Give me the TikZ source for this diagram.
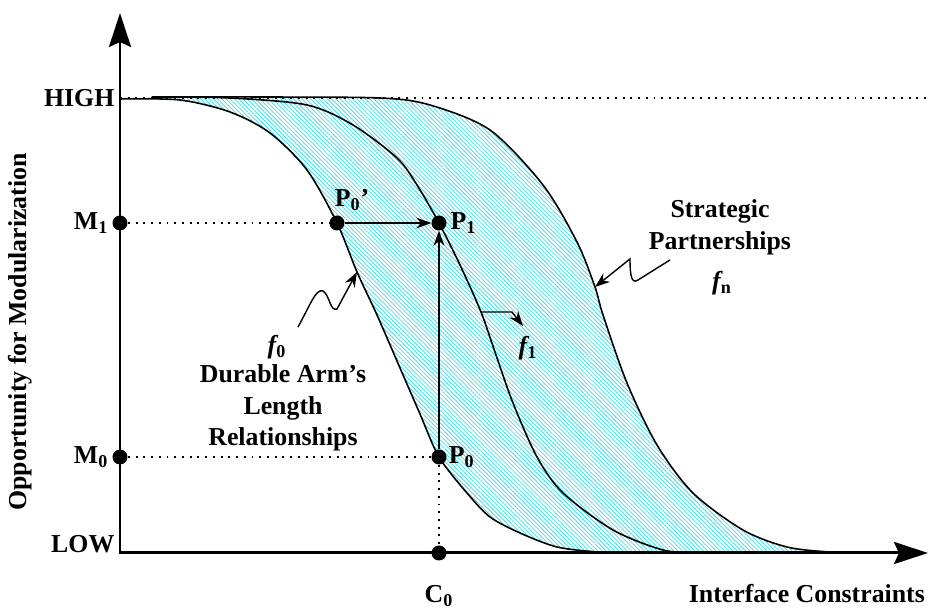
\documentclass[tikz,border=0pt]{standalone}
\usepackage{fontspec}
\setmainfont{Liberation Serif}
\usetikzlibrary{arrows.meta,patterns.meta,positioning}
\definecolor{hatch}{RGB}{64,224,232}

\begin{document}
\begin{tikzpicture}[
	every node/.style={font=\fontsize{14.7}{17.9}\selectfont\bfseries,inner sep=1pt},
	dot/.style={circle,fill,inner sep=0pt,minimum size=0.3cm},
	guide/.style={line width=1.1pt,dash pattern=on 1.1pt off 3.3pt},
	curve/.style={line width=0.9pt},
	axis/.style={line width=1.7pt},
	pointer/.style={line width=0.8pt,-{Stealth[length=3mm,width=2.2mm]}}
]
	\useasboundingbox (-2.4,-1.1) rectangle (16.24,11.06);

	% band between f0 and fn
	\fill[pattern={Lines[angle=-45,distance=1.7pt,line width=0.45pt]},pattern color=hatch]
		plot[smooth] coordinates {(0,9.08) (1.2,9.06) (2.2,8.82) (3.0,8.4) (3.74,7.66) (4.34,6.6) (4.74,5.62) (5.14,4.76) (5.6,3.7) (6.0,2.78) (6.38,1.92) (6.94,1.2) (7.4,0.72) (8.0,0.4) (8.74,0.12) (9.54,0.02) (10.0,0)}
		-- plot[smooth] coordinates {(15.0,0) (14.2,0.02) (13.34,0.12) (12.46,0.46) (11.46,1.2) (10.74,2.16) (10.14,3.4) (9.66,4.76) (9.5,5.32) (9.14,6.22) (8.46,7.36) (7.4,8.46) (6.2,8.96) (5.2,9.1) (2.8,9.12) (0.64,9.12)}
		-- cycle;

	% the three curves
	\draw[curve] plot[smooth] coordinates {(0,9.08) (1.2,9.06) (2.2,8.82) (3.0,8.4) (3.74,7.66) (4.34,6.6) (4.74,5.62) (5.14,4.76) (5.6,3.7) (6.0,2.78) (6.38,1.92) (6.94,1.2) (7.4,0.72) (8.0,0.4) (8.74,0.12) (9.54,0.02) (10.0,0)};
	\draw[curve] plot[smooth] coordinates {(0.64,9.12) (2.2,9.1) (3.74,8.96) (4.66,8.56) (5.54,7.9) (5.94,7.36) (6.38,6.6) (6.8,5.76) (7.22,4.82) (7.52,3.96) (7.86,3.0) (8.34,1.92) (8.86,1.2) (9.86,0.46) (10.86,0.06) (11.6,0)};
	\draw[curve] plot[smooth] coordinates {(0.64,9.12) (2.8,9.12) (5.2,9.1) (6.2,8.96) (7.4,8.46) (8.46,7.36) (9.14,6.22) (9.5,5.32) (9.66,4.76) (10.14,3.4) (10.74,2.16) (11.46,1.2) (12.46,0.46) (13.34,0.12) (14.2,0.02) (15.0,0)};

	% axes
	\coordinate (O) at (0,0);
	\coordinate (ytop) at (0,10.8);
	\coordinate (xend) at (16.16,0);
	\coordinate (hi) at (0,9.1);
	\coordinate (hiend) at (16.24,9.1);
	\draw[guide] (hi) -- (hiend);
	\draw[axis,{Stealth[length=6.8mm,width=4.4mm,inset=1mm]}-{Stealth[length=6.8mm,width=4.4mm,inset=1mm]}] (ytop) -- (O) -- (xend);

	% points
	\node[dot] (M1) at (0,6.6) {};
	\node[dot] (M0) at (0,1.92) {};
	\node[dot] (P0p) at (4.34,6.6) {};
	\node[dot] (P1) at (6.38,6.6) {};
	\node[dot] (P0) at (6.38,1.92) {};
	\node[dot] (C0) at (6.38,0) {};

	\draw[guide] (M1) -- (P0p);
	\draw[guide] (M0) -- (P0);
	\draw[guide] (P0) -- (C0);
	\draw[pointer] (P0p) -- (P1);
	\draw[pointer] (P0) -- (P1);

	% axis labels
	\node[left=2pt of hi] (lHIGH) {HIGH};
	\node[left=1pt of M1] (lM1) {M\textsubscript{1}};
	\node[left=1pt of M0] (lM0) {M\textsubscript{0}};
	\node[anchor=base east] (lLOW) at ([xshift=-2pt]O) {LOW};
	\node[below=0.45cm of C0] (lC0) {C\textsubscript{0}};
	\node[rotate=90] (lyax) at (-2.0,4.42) {Opportunity for Modularization};
	\node[anchor=east] (lxax) at (16.14,-0.82) {Interface Constraints};

	% point labels
	\node[right=0pt of P0] (lP0) {P\textsubscript{0}};
	\node[right=1pt of P1] (lP1) {P\textsubscript{1}};
	\path (P0p) ++(0.3,0.46) node (lP0p) {P\textsubscript{0}’};

	% curve labels
	\node (lf0) at (3.14,4.12) {{\itshape f}\textsubscript{0}};
	\node[align=center] (lf0txt) at (3.26,2.9) {Durable Arm’s\\Length\\Relationships};
	\node (lf1) at (8.16,4.1) {{\itshape f}\textsubscript{1}};
	\node[align=center] (lfntxt) at (12.0,6.51) {Strategic\\Partnerships};
	\node (lfn) at (12.04,5.4) {{\itshape f}\textsubscript{n}};

	% pointers to the curves
	\coordinate (s0) at (3.56,4.52);
	\coordinate (t0) at (4.74,5.62);
	\draw[pointer] (s0) .. controls (3.8,4.95) and (3.92,5.3) .. (4.06,5.24) .. controls (4.2,5.15) and (4.2,4.82) .. (4.34,4.88) -- (t0);
	\coordinate (s1) at (7.22,4.82);
	\coordinate (t1) at (8.06,4.54);
	\draw[pointer] (s1) -- (7.84,4.82) -- (t1);
	\coordinate (sn) at (11.0,5.86);
	\coordinate (tn) at (9.5,5.32);
	\draw[pointer] (sn) -- (10.36,5.46) .. controls (10.22,5.36) and (10.2,5.6) .. (10.2,5.88) -- (tn);
\end{tikzpicture}
\end{document}
